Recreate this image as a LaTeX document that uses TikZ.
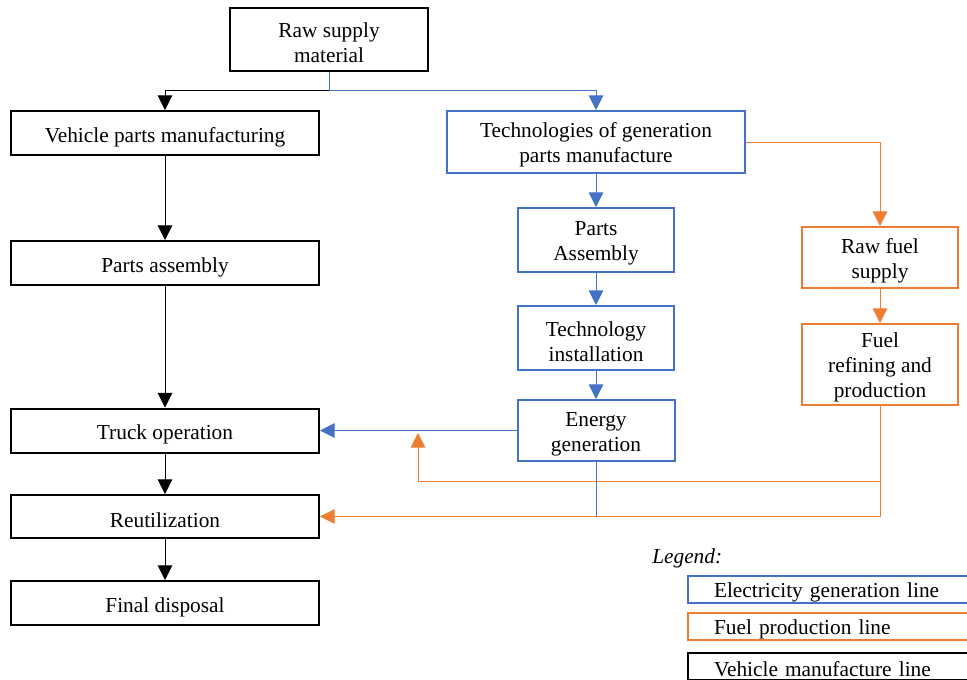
\documentclass[tikz,border=0pt]{standalone}
\usepackage{fontspec}
\setmainfont{Liberation Serif}
\usetikzlibrary{arrows.meta}
\definecolor{eblue}{HTML}{4472C4}
\definecolor{forange}{HTML}{ED7D31}
\def\boxfont{\fontsize{16}{18.75}\selectfont}
\def\tstrut{\rule{0pt}{16pt}}

\begin{document}
\begin{tikzpicture}[x=0.75pt,y=-0.75pt,
    every node/.style={font=\boxfont,align=center,inner sep=0pt},
    lowtext/.style={execute at begin node={\rule{0pt}{#1}}},
    box/.style args={#1/#2}{draw,line width=1.5pt,lowtext=17pt,minimum width=#1*0.75pt,minimum height=#2*0.75pt},
    legbox/.style={draw,line width=1.5pt,lowtext=15pt,anchor=west,minimum height=27*0.75pt,
      text width=177pt,align=left,inner xsep=19.5pt},
    link/.style={line width=0.75pt,-{Triangle[width=11pt,length=11pt]}}]
    \useasboundingbox (0,0) rectangle (967,679);
    \clip (0,0) rectangle (967,679);

    % vehicle manufacture line
    \node[box=198/63] (raw) at (329,39.5) {\tstrut Raw supply\\material};
    \node[box=308/44] (vpm) at (165,133) {Vehicle parts manufacturing};
    \node[box=308/44] (asm) at (165,263) {Parts assembly};
    \node[box=308/44] (truck) at (165,430.5) {Truck operation};
    \node[box=308/43] (reuse) at (165,516.5) {Reutilization};
    \node[box=308/44] (disp) at (165,603) {Final disposal};

    % electricity generation line
    \node[box=298/62,draw=eblue] (tech) at (596,142) {\tstrut Technologies of generation\\parts manufacture};
    \node[box=156/64,draw=eblue] (passy) at (596,240) {\tstrut Parts\\Assembly};
    \node[box=156/64,draw=eblue] (inst) at (596,338) {\tstrut Technology\\installation};
    \node[box=157/61,draw=eblue] (energy) at (596,430.5) {\tstrut Energy\\generation};

    % fuel production line
    \node[box=156/61,draw=forange] (rfuel) at (880,257.5) {\tstrut Raw fuel\\supply};
    \node[box=156/81,draw=forange] (refine) at (880,364.5) {\tstrut Fuel\\refining and\\production};

    \coordinate (split) at (329,90);
    \draw[link] (split) -| (vpm.north);
    \draw[link,eblue] (raw.south) -- (split) -| (tech.north);
    \draw[link] (vpm) -- (asm);
    \draw[link] (asm) -- (truck);
    \draw[link] (truck) -- (reuse);
    \draw[link] (reuse) -- (disp);

    \draw[link,eblue] (tech) -- (passy);
    \draw[link,eblue] (passy) -- (inst);
    \draw[link,eblue] (inst) -- (energy);
    \draw[link,eblue] (energy.west) -- (truck.east);

    \draw[link,forange] (tech.east) -| (rfuel.north);
    \draw[link,forange] (rfuel) -- (refine);
    \draw[link,forange] (refine.south) |- (reuse.east);
    \coordinate (back) at (418,481);
    \coordinate (backtip) at (418,433);
    \draw[link,forange] (refine.south |- back) -- (back) -- (backtip);
    \draw[eblue,line width=0.75pt] (energy.south) -- (energy.south |- reuse.east);

    % legend
    \node[anchor=west,font=\boxfont\itshape] (legend) at (652,558) {Legend:};
    \node[legbox,draw=eblue] (lelec) at (687,589.5) {Electricity generation line};
    \node[legbox,draw=forange] (lfuel) at (687,626.5) {Fuel production line};
    \node[legbox] (lveh) at (687,666.5) {Vehicle manufacture line};
\end{tikzpicture}
\end{document}
